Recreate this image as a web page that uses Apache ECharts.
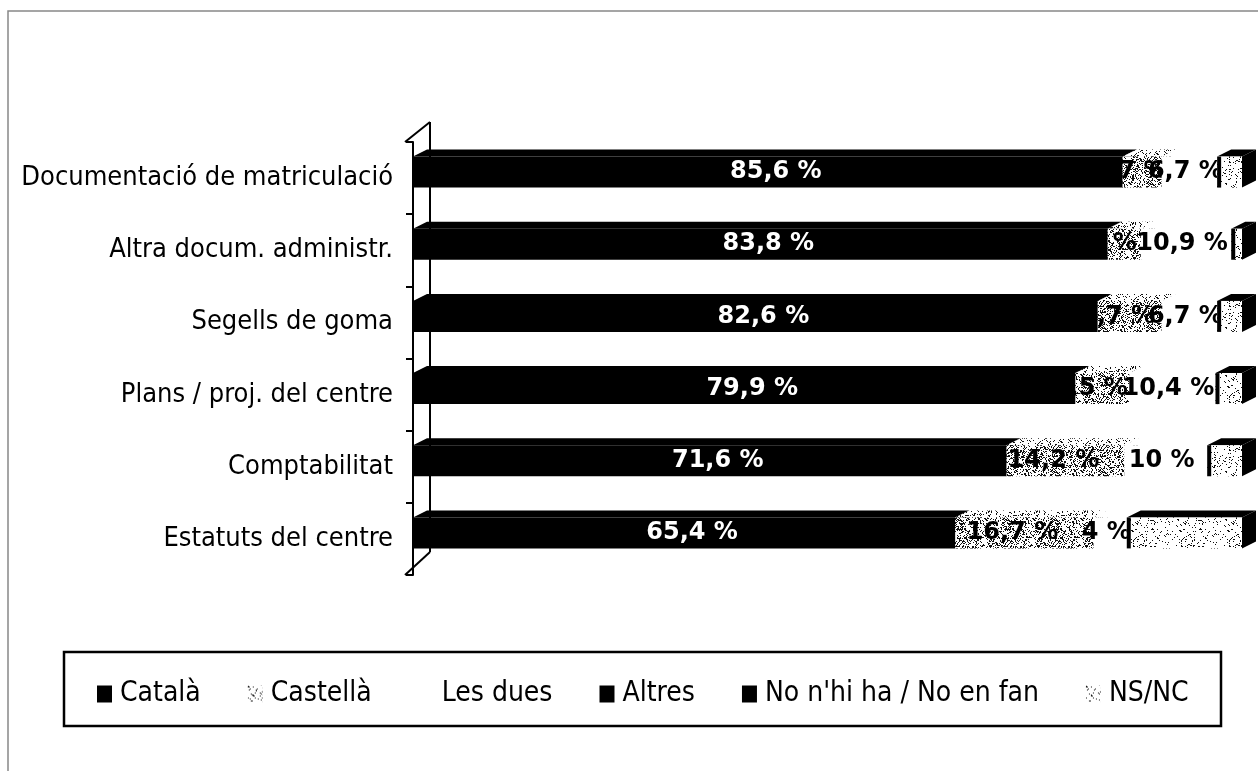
<!DOCTYPE html>
<html>
<head>
<meta charset="utf-8">
<script src="https://cdn.jsdelivr.net/npm/echarts@6/dist/echarts.min.js"></script>
<style>
  html, body { margin: 0; padding: 0; background: #fff; }
  #chart { width: 1258px; height: 771px; }
</style>
</head>
<body>
<div id="chart"></div>
<script>
// Categories (top to bottom) and shares per language, in %
const categories = [
  'Documentació de matriculació',
  'Altra docum. administr.',
  'Segells de goma',
  'Plans / proj. del centre',
  'Comptabilitat',
  'Estatuts del centre'
];
const seriesNames = ['Català', 'Castellà', 'Les dues', 'Altres', "No n'hi ha / No en fan", 'NS/NC'];
const catala   = [85.6, 83.8, 82.6, 79.9, 71.6, 65.4];
const castella = [4.7, 4.0, 7.7, 6.5, 14.2, 16.7];
const lesDues  = [6.7, 10.9, 6.7, 10.4, 10.0, 4.0];
const altres   = [0, 0, 0, 0, 0, 0];
const noNhiHa  = [0, 0, 0, 0, 0, 0];
const nsnc     = [3.0, 1.3, 3.0, 3.2, 4.2, 13.9];
const allValues = [catala, castella, lesDues, altres, noNhiHa, nsnc];
// which series print their value on the bar
const showLabel = [true, true, true, false, false, false];

// speckled fill made of single dark pixels on white
function speckle(density) {
  const n = 48;
  const c = document.createElement('canvas');
  c.width = n; c.height = n;
  const ctx = c.getContext('2d');
  ctx.fillStyle = '#fff';
  ctx.fillRect(0, 0, n, n);
  ctx.fillStyle = '#111';
  for (let y = 0; y < n; y++) {
    for (let x = 0; x < n; x++) {
      let h = (x * 374761393 + y * 668265263) | 0;
      h = Math.imul(h ^ (h >>> 13), 1274126177);
      h = (h ^ (h >>> 16)) >>> 0;
      if ((h % 1000) / 1000 < density) ctx.fillRect(x, y, 1, 1);
    }
  }
  return { image: c, repeat: 'repeat' };
}

const patCastFront = speckle(0.32);
const patCastTop = speckle(0.16);
const patLight = speckle(0.10);
const patLegendCast = speckle(0.12);

// face fills per series: front, top, side; label colour and horizontal nudge
const faces = [
  { front: '#000', top: '#000', side: '#000', text: '#fff', dx: 8 },
  { front: patCastFront, top: patCastTop, side: patCastFront, text: '#000', dx: -12 },
  { front: '#fff', top: '#fff', side: '#fff', text: '#000', dx: -4 },
  { front: '#000', top: '#000', side: '#000', text: '#fff', dx: 0 },
  { front: '#000', top: '#000', side: '#000', text: '#fff', dx: 0 },
  { front: patLight, top: '#000', side: '#000', text: '#000', dx: 0, edge: true }
];

const DX = 14, DY = 7, BAR_H = 31, SHIFT = -6;

function fmt(v) { return String(v).replace('.', ',') + ' %'; }

// cumulative start/end of each stacked segment
const stacked = [];
const base = categories.map(() => 0);
allValues.forEach((vals, s) => {
  stacked.push(vals.map((v, i) => {
    const item = [i, base[i], base[i] + v, v];
    base[i] += v;
    return item;
  }));
});

function barRenderer(s) {
  const f = faces[s];
  return function (params, api) {
    const v = api.value(3);
    if (!(v > 0)) return null;
    const cat = api.value(0);
    const p0 = api.coord([api.value(1), cat]);
    const p1 = api.coord([api.value(2), cat]);
    const cy = p0[1] + SHIFT;
    const y0 = cy - BAR_H / 2, y1 = cy + BAR_H / 2;
    const x0 = p0[0], x1 = p1[0];
    const children = [
      { type: 'polygon', shape: { points: [[x1, y0], [x1 + DX, y0 - DY], [x1 + DX, y1 - DY], [x1, y1]] }, style: { fill: f.side } },
      { type: 'polygon', shape: { points: [[x0, y0], [x1, y0], [x1 + DX, y0 - DY], [x0 + DX, y0 - DY]] }, style: { fill: f.top } },
      { type: 'rect', shape: { x: x0, y: y0, width: x1 - x0, height: y1 - y0 }, style: { fill: f.front } }
    ];
    if (f.edge) {
      children.push({ type: 'line', shape: { x1: x0 + 2, y1: y0, x2: x0 + 2, y2: y1 }, style: { stroke: '#000', lineWidth: 4 } });
    }
    if (showLabel[s]) {
      children.push({
        type: 'text',
        style: {
          text: fmt(v), x: (x0 + x1) / 2 + f.dx, y: cy,
          fill: f.text, align: 'center', verticalAlign: 'middle',
          font: 'bold 24px "DejaVu Sans"'
        }
      });
    }
    return { type: 'group', children };
  };
}

const series = seriesNames.map((name, s) => ({
  name,
  type: 'custom',
  coordinateSystem: 'cartesian2d',
  renderItem: barRenderer(s),
  encode: { x: [1, 2], y: 0 },
  itemStyle: { color: s === 1 ? patLegendCast : (s === 5 ? patLight : faces[s].front) },
  data: stacked[s],
  silent: true
}));

// back wall of the 3D category axis
series.push({
  name: 'wall',
  type: 'custom',
  coordinateSystem: 'cartesian2d',
  silent: true,
  data: [[0, 0]],
  encode: { x: 0, y: 1 },
  renderItem: function (params, api) {
    const cs = params.coordSys;
    const fx = cs.x - 8, bx = fx + 25;
    const top = cs.y, bot = cs.y + cs.height;
    const st = { stroke: '#000', lineWidth: 2 };
    return {
      type: 'group',
      children: [
        { type: 'line', shape: { x1: fx, y1: top, x2: bx, y2: top - 20 }, style: st },
        { type: 'line', shape: { x1: bx, y1: top - 20, x2: bx, y2: bot - 23 }, style: st },
        { type: 'line', shape: { x1: fx, y1: bot, x2: bx, y2: bot - 23 }, style: st }
      ]
    };
  }
});

const textFont = '"DejaVu Sans Condensed"';

const chart = echarts.init(document.getElementById('chart'), null, { renderer: 'canvas' });
chart.setOption({
  animation: false,
  backgroundColor: '#fff',
  graphic: [
    { type: 'rect', shape: { x: 8, y: 11, width: 1270, height: 780 }, style: { fill: null, stroke: '#888', lineWidth: 1.5 }, z: 0 },
    { type: 'rect', shape: { x: 64, y: 652, width: 1157, height: 74 }, style: { fill: null, stroke: '#000', lineWidth: 2.5 }, z: 0 }
  ],
  grid: { left: 413, right: 16, top: 142, bottom: 196, containLabel: false },
  xAxis: {
    type: 'value', min: 0, max: 100, show: false
  },
  yAxis: {
    type: 'category',
    data: categories,
    inverse: true,
    offset: 8,
    axisLine: { show: true, lineStyle: { color: '#000', width: 2 } },
    axisTick: { show: true, inside: false, length: 7, lineStyle: { color: '#000', width: 2 } },
    axisLabel: {
      color: '#000', fontSize: 27, fontFamily: textFont, margin: 12,
      padding: [0, 0, 10, 0]
    },
    splitLine: { show: false }
  },
  legend: {
    data: seriesNames.map((n, s) => ({
      name: n,
      itemStyle: { color: s === 1 ? patLegendCast : (s === 5 ? patLight : faces[s].front), borderWidth: 0 }
    })),
    left: 92,
    top: 675,
    icon: 'rect',
    itemWidth: 15,
    itemHeight: 17,
    itemGap: 47,
    selectedMode: false,
    textStyle: { color: '#000', fontSize: 28, fontFamily: textFont, padding: [0, 0, 0, 3] }
  },
  series
});
</script>
</body>
</html>
